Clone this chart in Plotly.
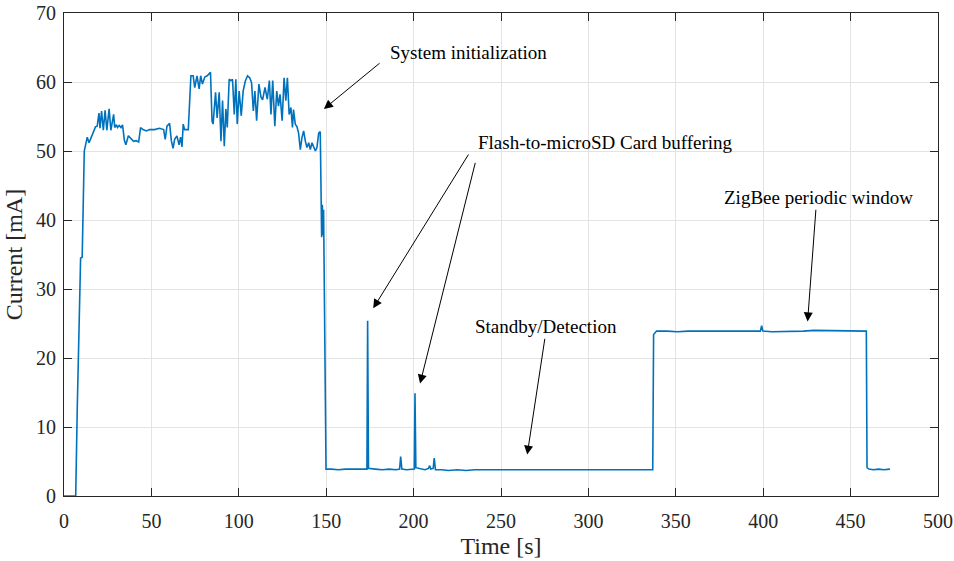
import plotly.graph_objects as go

# ---- data ----
time_s = [
    0, 6.7, 7.6, 9.5, 10.4, 11.6, 13.3, 14.3, 15.3, 17.2, 18.0, 19.0, 20.0, 20.6, 21.5, 22.5,
    23.5, 24.5, 25.8, 26.8, 28.4, 29.0, 30.0, 30.6, 31.6, 32.6, 33.5, 34.5, 35.4, 36.8, 38.4,
    39.8, 41.3, 42.7, 43.8, 45.2, 47.1, 49.0, 51.8, 54.6, 57.0, 57.9, 58.9, 60.4, 61.4, 62.4,
    63.3, 64.6, 65.8, 66.7, 67.5, 68.2, 69.0, 71.1, 72.6, 73.9, 74.8, 76.1, 77.3, 78.2, 79.2,
    80.5, 81.9, 83.0, 83.8, 84.7, 85.3, 86.7, 87.6, 88.8, 89.8, 90.7, 91.7, 92.6, 93.4, 94.5,
    95.5, 96.4, 97.4, 98.3, 99.1, 100.2, 101.4, 102.5, 103.7, 105.0, 106.3, 107.3, 108.3,
    109.2, 110.2, 111.5, 112.7, 113.6, 115.0, 116.3, 117.5, 118.4, 119.4, 120.6, 121.7, 122.7,
    123.6, 124.8, 125.9, 126.9, 127.8, 128.8, 129.8, 130.7, 131.3, 132.3, 133.3, 134.2, 135.2,
    136.1, 137.1, 138.1, 139.0, 140.0, 140.9, 141.9, 142.8, 143.8, 144.7, 145.7, 146.6, 147.4,
    147.8, 148.2, 148.5, 149.9,
    153, 157, 161, 165, 169, 173.3, 173.7, 174.2, 178, 182, 186, 190, 192.0, 192.6, 193.3,
    196, 200.4, 200.8, 201.3, 204, 206.5, 208.5, 209.2, 209.8, 211.2, 211.8, 212.5, 216, 220,
    225, 230, 235, 240, 245, 250, 255, 260, 265, 270, 275, 280, 285, 290, 295, 300, 305, 310,
    315, 320, 325, 330, 334, 336.8,
    337.3, 339.0, 345, 351, 357, 363, 369, 375, 381, 387, 393, 398.4, 399.1, 399.8, 405, 411,
    417, 423, 429, 435, 441, 447, 453, 459.0,
    459.4, 460.5, 463, 466, 469, 472.5,
]
current_mA = [
    0, 0, 12.9, 34.5, 34.6, 50.0, 52.0, 51.2, 51.8, 52.9, 53.5, 53.6, 55.5, 53.3, 55.8, 53.0,
    55.9, 53.0, 56.1, 53.0, 55.3, 53.4, 53.8, 53.4, 53.7, 53.4, 53.8, 51.6, 50.9, 52.2, 51.8,
    51.4, 51.5, 51.3, 53.4, 53.1, 52.9, 53.1, 53.1, 53.3, 53.1, 51.7, 53.6, 54.0, 51.5, 50.4,
    51.7, 52.2, 50.9, 52.0, 50.6, 53.9, 53.1, 53.1, 60.9, 60.9, 59.2, 60.9, 59.0, 60.9, 59.7,
    60.7, 60.9, 61.2, 61.4, 54.3, 53.9, 58.5, 54.8, 58.5, 51.4, 57.3, 50.7, 56.1, 53.4, 60.4,
    60.2, 60.4, 55.3, 60.4, 53.9, 58.7, 55.1, 58.7, 60.1, 60.9, 60.6, 59.9, 55.8,
    58.7, 54.4, 59.7, 57.8, 57.4, 59.2, 57.5, 60.2, 55.3, 60.2, 53.6, 58.7, 56.5,
    58.2, 54.4, 60.6, 57.3, 60.6, 55.3, 56.3, 53.4, 56.0, 53.9, 53.5, 52.6, 50.2,
    51.9, 52.9, 51.4, 50.5, 51.2, 50.2, 51.2, 50.7, 50.0, 50.5, 52.6, 52.8, 37.5,
    42.2, 37.8, 41.5, 3.9,
    3.9, 3.8, 3.9, 3.9, 3.8, 3.9, 25.4, 4.0, 3.9, 3.8, 3.9, 3.8, 3.9, 5.7, 3.9,
    3.8, 3.9, 14.9, 4.1, 3.9, 3.8, 4.0, 4.4, 3.9, 4.0, 5.5, 3.8, 3.8, 3.7,
    3.8, 3.7, 3.8, 3.8, 3.7, 3.8, 3.7, 3.8, 3.7, 3.8, 3.8, 3.7, 3.8, 3.8, 3.7, 3.8, 3.8, 3.8,
    3.7, 3.8, 3.8, 3.7, 3.8, 3.8,
    23.4, 23.9, 23.9, 23.8, 23.9, 23.9, 23.8, 23.9, 23.9, 23.8, 23.9, 23.9, 24.7, 23.9, 23.8, 23.8,
    23.9, 23.9, 24.0, 24.0, 23.9, 23.9, 23.9, 23.9,
    4.1, 3.9, 3.8, 3.9, 3.8, 3.9,
]

x_ticks = [0, 50, 100, 150, 200, 250, 300, 350, 400, 450, 500]
y_ticks = [0, 10, 20, 30, 40, 50, 60, 70]

# annotation labels: (text, left x, center y) in data coordinates
labels = [
    ("System initialization", 185.2, 64.3),
    ("Flash-to-microSD Card buffering", 235.5, 51.2),
    ("Standby/Detection", 234.0, 24.5),
    ("ZigBee periodic window", 376.3, 43.2),
]
# arrows: (tail x, tail y, head x, head y) in data coordinates
arrows = [
    (181.4, 62.9, 148.7, 56.1),
    (231.9, 49.7, 176.9, 27.2),
    (235.5, 48.5, 203.7, 16.3),
    (275.2, 23.0, 265.0, 6.0),
    (430.2, 41.7, 425.4, 25.3),
]

FONT = "Liberation Serif"
AXIS_COLOR = "#262626"

fig = go.Figure()
fig.add_trace(go.Scatter(
    x=time_s, y=current_mA, mode="lines",
    line=dict(color="#0072BD", width=1.6),
    showlegend=False,
))

for text, lx, ly in labels:
    fig.add_annotation(
        x=lx, y=ly, xref="x", yref="y", text=text, showarrow=False,
        xanchor="left", yanchor="middle",
        font=dict(family=FONT, size=19, color="black"),
    )
for tx, ty, hx, hy in arrows:
    fig.add_annotation(
        x=hx, y=hy, ax=tx, ay=ty, xref="x", yref="y", axref="x", ayref="y",
        text="", showarrow=True, arrowhead=2, arrowsize=1.8, arrowwidth=1,
        arrowcolor="black", standoff=0, startstandoff=0,
    )

axis_common = dict(
    showline=True, linecolor=AXIS_COLOR, linewidth=1, mirror="ticks",
    ticks="inside", ticklen=8, tickcolor=AXIS_COLOR, tickwidth=1,
    showgrid=True, gridcolor="#e3e3e3", gridwidth=1, zeroline=False,
    tickfont=dict(family=FONT, size=20, color="#262626"),
    automargin=False,
)
fig.update_xaxes(
    range=[0, 500], tickvals=x_ticks, ticktext=[str(v) for v in x_ticks],
    ticklabelstandoff=7,
    title=dict(text="Time [s]", font=dict(family=FONT, size=24, color="#262626"), standoff=6),
    **axis_common,
)
fig.update_yaxes(
    range=[0, 70], tickvals=y_ticks, ticktext=[str(v) for v in y_ticks],
    ticklabelstandoff=3,
    title=dict(text="Current [mA]", font=dict(family=FONT, size=24, color="#262626"), standoff=6),
    **axis_common,
)
fig.update_layout(
    width=954, height=561,
    margin=dict(l=64, r=16, t=13, b=65),
    paper_bgcolor="white", plot_bgcolor="white",
)
fig.write_html("out.html")
